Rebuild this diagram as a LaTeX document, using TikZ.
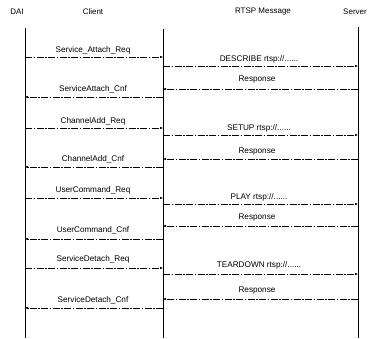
\documentclass[tikz,border=0pt]{standalone}
\usepackage{fontspec}
\setmainfont{Liberation Sans}
\usetikzlibrary{arrows.meta}
\begin{document}
\begin{tikzpicture}[x=1pt,y=-1pt,
  msg/.style={draw, line width=0.55pt, dash pattern=on 7pt off 1.5pt on 1.5pt off 1.5pt, -{Latex[length=3pt,width=2.6pt]}},
  life/.style={draw, line width=0.9pt},
  lbl/.style={font=\fontsize{8.2}{10}\selectfont, inner sep=0pt},
  head/.style={font=\fontsize{8}{10}\selectfont, inner sep=0pt}]
\useasboundingbox (0,0) rectangle (370,338);
% headers
\node[head] (hDAI) at (17,12) {DAI};
\node[head] (hClient) at (93,12) {Client};
\node[head] (hRTSP) at (263,12) {RTSP Message};
\node[head] (hServer) at (355,12) {Server};
% lifelines
\coordinate (dT) at (25,28); \coordinate (dB) at (25,338);
\coordinate (cT) at (163,29); \coordinate (cB) at (163,338);
\coordinate (sT) at (358,27); \coordinate (sB) at (358,338);
\draw[life] (dT) -- (dB);
\draw[life] (cT) -- (cB);
\draw[life] (sT) -- (sB);
% left messages (DAI <-> Client)
\coordinate (d1) at (25,57);  \coordinate (c1) at (163,57);
\coordinate (d2) at (25,97);  \coordinate (c2) at (163,97);
\coordinate (d3) at (25,128); \coordinate (c3) at (163,128);
\coordinate (d4) at (25,167); \coordinate (c4) at (163,167);
\coordinate (d5) at (25,198); \coordinate (c5) at (163,198);
\coordinate (d6) at (25,239); \coordinate (c6) at (163,239);
\coordinate (d7) at (25,268); \coordinate (c7) at (163,268);
\coordinate (d8) at (25,308); \coordinate (c8) at (163,308);
\draw[msg] (d1) -- (c1);
\draw[msg] (c2) -- (d2);
\draw[msg] (d3) -- (c3);
\draw[msg] (c4) -- (d4);
\draw[msg] (d5) -- (c5);
\draw[msg] (c6) -- (d6);
\draw[msg] (d7) -- (c7);
\draw[msg] (c8) -- (d8);
\node[lbl] (l1) at (93,50) {Service\_Attach\_Req};
\node[lbl] (l2) at (93,89) {ServiceAttach\_Cnf};
\node[lbl] (l3) at (93,121) {ChannelAdd\_Req};
\node[lbl] (l4) at (93,159) {ChannelAdd\_Cnf};
\node[lbl] (l5) at (93,190) {UserCommand\_Req};
\node[lbl] (l6) at (93,230) {UserCommand\_Cnf};
\node[lbl] (l7) at (93,259) {ServiceDetach\_Req};
\node[lbl] (l8) at (93,300) {ServiceDetach\_Cnf};
% right messages (Client <-> Server)
\coordinate (e1) at (163,66);  \coordinate (s1) at (358,66);
\coordinate (e2) at (163,89);  \coordinate (s2) at (358,89);
\coordinate (e3) at (163,135); \coordinate (s3) at (358,135);
\coordinate (e4) at (163,159); \coordinate (s4) at (358,159);
\coordinate (e5) at (163,204); \coordinate (s5) at (358,204);
\coordinate (e6) at (163,226); \coordinate (s6) at (358,226);
\coordinate (e7) at (163,274); \coordinate (s7) at (358,274);
\coordinate (e8) at (163,299); \coordinate (s8) at (358,299);
\draw[msg] (e1) -- (s1);
\draw[msg] (s2) -- (e2);
\draw[msg] (e3) -- (s3);
\draw[msg] (s4) -- (e4);
\draw[msg] (e5) -- (s5);
\draw[msg] (s6) -- (e6);
\draw[msg] (e7) -- (s7);
\draw[msg] (s8) -- (e8);
\node[lbl] (r1) at (259,59) {DESCRIBE rtsp://......};
\node[lbl] (r2) at (257,80) {Response};
\node[lbl] (r3) at (259,128) {SETUP rtsp://......};
\node[lbl] (r4) at (257,152) {Response};
\node[lbl] (r5) at (259,197) {PLAY rtsp://......};
\node[lbl] (r6) at (257,218) {Response};
\node[lbl] (r7) at (259,265) {TEARDOWN rtsp://......};
\node[lbl] (r8) at (257,291) {Response};
\end{tikzpicture}
\end{document}
